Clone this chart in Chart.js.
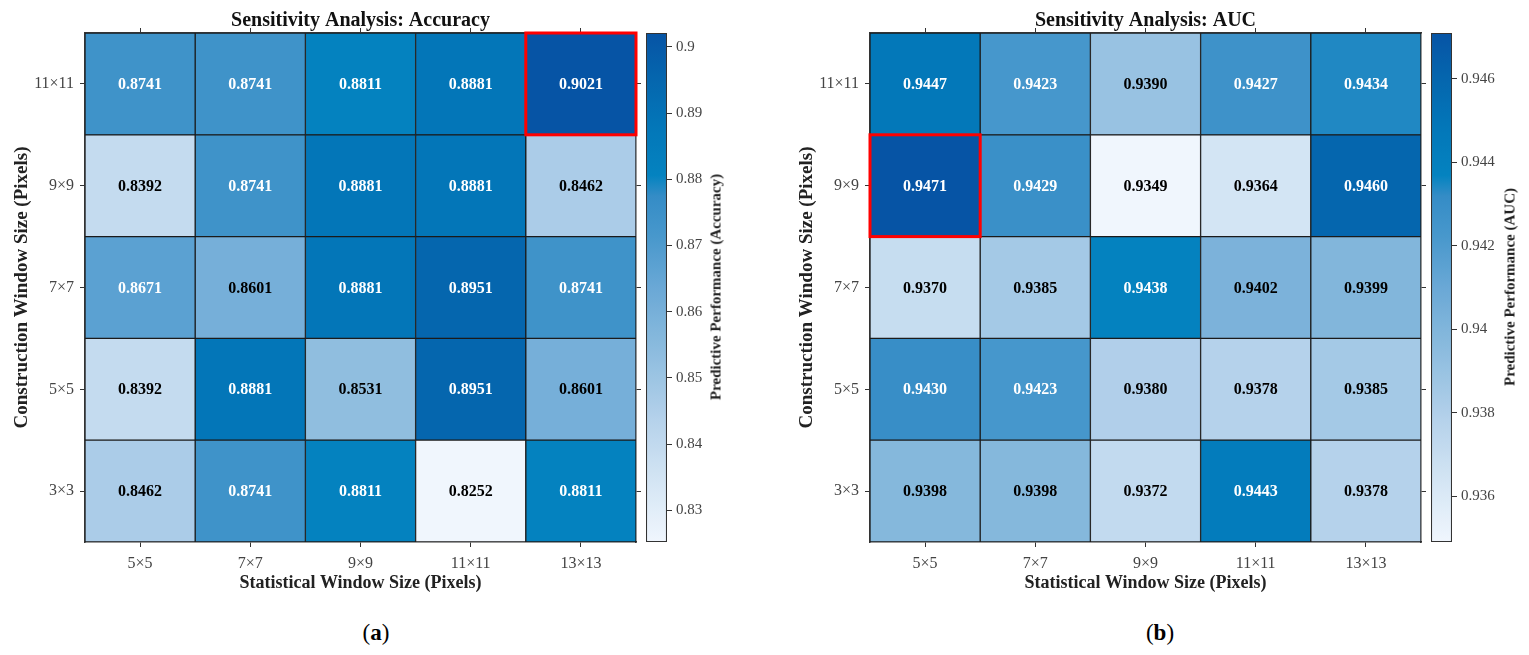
<!DOCTYPE html>
<html><head><meta charset="utf-8">
<script src="https://cdn.jsdelivr.net/npm/chart.js@4.4.0/dist/chart.umd.min.js"></script>
<style>
body{margin:0;background:#fff;width:1529px;height:655px;overflow:hidden;position:relative;font-family:'Liberation Serif',serif;}
.box{position:absolute;}
.cbl{position:absolute;font:bold 15px 'Liberation Serif',serif;color:#222;transform:translate(-50%,-50%) rotate(-90deg);white-space:nowrap;}
.cap{position:absolute;font:23px 'Liberation Serif',serif;color:#000;transform:translate(-50%,-50%);white-space:nowrap;}
</style></head><body>
<div class="box" style="left:0;top:0;width:642px;height:600px"><canvas id="hmA"></canvas></div>
<div class="box" style="left:640px;top:0;width:140px;height:600px"><canvas id="cbA"></canvas></div>
<div class="box" style="left:785px;top:0;width:642px;height:600px"><canvas id="hmB"></canvas></div>
<div class="box" style="left:1425px;top:0;width:104px;height:600px"><canvas id="cbB"></canvas></div>
<div class="cbl" style="left:716px;top:287px">Predictive Performance (Accuracy)</div>
<div class="cbl" style="left:1510px;top:287px">Predictive Performance (AUC)</div>
<div class="cap" style="left:376px;top:633px">(<b>a</b>)</div>
<div class="cap" style="left:1160px;top:633px">(<b>b</b>)</div>
<script>
// ---- data ----
const xLabels = ['5×5','7×7','9×9','11×11','13×13'];        // Statistical window
const yLabels = ['3×3','5×5','7×7','9×9','11×11'];          // Construction window (bottom → top)

const acc3x3   = [0.8462, 0.8741, 0.8811, 0.8252, 0.8811];
const acc5x5   = [0.8392, 0.8881, 0.8531, 0.8951, 0.8601];
const acc7x7   = [0.8671, 0.8601, 0.8881, 0.8951, 0.8741];
const acc9x9   = [0.8392, 0.8741, 0.8881, 0.8881, 0.8462];
const acc11x11 = [0.8741, 0.8741, 0.8811, 0.8881, 0.9021];

const auc3x3   = [0.9398, 0.9398, 0.9372, 0.9443, 0.9378];
const auc5x5   = [0.9430, 0.9423, 0.9380, 0.9378, 0.9385];
const auc7x7   = [0.9370, 0.9385, 0.9438, 0.9402, 0.9399];
const auc9x9   = [0.9471, 0.9429, 0.9349, 0.9364, 0.9460];
const auc11x11 = [0.9447, 0.9423, 0.9390, 0.9427, 0.9434];

const accTicks = [0.83, 0.84, 0.85, 0.86, 0.87, 0.88, 0.89, 0.90];
const aucTicks = [0.936, 0.938, 0.940, 0.942, 0.944, 0.946];

// ---- colour map ----
const stops=[[0,[240,246,253]],[0.12,[212,229,244]],[0.25,[178,208,234]],[0.4,[133,184,220]],[0.5,[106,168,214]],[0.6,[72,152,204]],[0.68,[52,140,198]],[0.72,[4,131,192]],[0.82,[3,118,184]],[0.91,[5,102,174]],[1,[6,84,165]]];
function cmap(t){
  t=Math.max(0,Math.min(1,t));
  for(let i=1;i<stops.length;i++){
    if(t<=stops[i][0]){
      const [t0,c0]=stops[i-1],[t1,c1]=stops[i];const f=(t-t0)/(t1-t0);
      return 'rgb('+c0.map((c,k)=>Math.round(c+(c1[k]-c)*f)).join(',')+')';
    }
  }
  return 'rgb('+stops[stops.length-1][1].join(',')+')';
}

Chart.defaults.font.family="'Liberation Serif', serif";
Chart.defaults.color='#333';

function makeHeat(id, rows, title, yTitle, xTitle){
  const flat=rows.flat(); const mn=Math.min(...flat), mx=Math.max(...flat);
  const datasets=rows.map((row,r)=>({
    data: row.map(()=>[r-0.5,r+0.5]),
    values: row,
    backgroundColor: row.map(v=>cmap((v-mn)/(mx-mn))),
    borderColor:'#1b1b1b', borderWidth:1, borderSkipped:false,
    barPercentage:1, categoryPercentage:1, grouped:false,
    xAxisID:'x', yAxisID:'y'
  }));
  const cellPlugin={
    id:'cells'+id,
    afterDatasetsDraw(chart){
      const ctx=chart.ctx; let best=null;
      chart.data.datasets.forEach((ds,i)=>{
        chart.getDatasetMeta(i).data.forEach((el,j)=>{
          const v=ds.values[j]; const t=(v-mn)/(mx-mn); const p=el.getCenterPoint();
          ctx.save(); ctx.font="bold 16px 'Liberation Serif', serif"; ctx.fillStyle=t>0.5?'#ffffff':'#000000';
          ctx.textAlign='center'; ctx.textBaseline='middle'; ctx.fillText(v.toFixed(4),p.x,p.y+1); ctx.restore();
          if(!best||v>best.v) best={v,el};
        });
      });
      const {x,y,base,width}=best.el.getProps(['x','y','base','width'],true);
      ctx.save(); ctx.strokeStyle='#ff0000'; ctx.lineWidth=3;
      ctx.strokeRect(x-width/2, Math.min(y,base), width, Math.abs(base-y)); ctx.restore();
    }
  };
  const rowTicks=s=>{s.ticks=[0,1,2,3,4].map(v=>({value:v}));};
  new Chart(document.getElementById(id),{
    type:'bar',
    data:{labels:xLabels, datasets},
    plugins:[cellPlugin],
    options:{
      responsive:true, maintainAspectRatio:false, animation:false,
      layout:{padding:0},
      plugins:{legend:{display:false}, tooltip:{enabled:false},
        title:{display:true, text:title, fullSize:false, color:'#111', font:{size:20, weight:'bold'}, padding:{top:9,bottom:0}}},
      scales:{
        x:{type:'category', position:'bottom', offset:true,
          grid:{offset:false, drawOnChartArea:false, tickLength:5, color:'#333'},
          border:{display:true, color:'#333', width:1.5},
          ticks:{font:{size:16}, color:'#444', padding:7},
          title:{display:true, text:xTitle, color:'#222', font:{size:18, weight:'bold'}, padding:{top:2,bottom:6}},
          afterFit:s=>{s.height=58;}},
        x2:{type:'category', labels:xLabels, position:'top', offset:true,
          grid:{offset:false, drawOnChartArea:false, tickLength:5, color:'#333'},
          border:{display:true, color:'#333', width:1.5},
          ticks:{display:false}, afterFit:s=>{s.height=0;}},
        y:{type:'linear', position:'left', min:-0.5, max:4.5, afterBuildTicks:rowTicks,
          grid:{drawOnChartArea:false, tickLength:5, color:'#333'},
          border:{display:true, color:'#333', width:1.5},
          ticks:{font:{size:16}, color:'#444', padding:6, callback:v=>yLabels[Math.round(v)]},
          title:{display:true, text:yTitle, color:'#222', font:{size:19, weight:'bold'}, padding:{top:11,bottom:0}},
          afterFit:s=>{s.width=85;}},
        y2:{type:'linear', position:'right', min:-0.5, max:4.5, afterBuildTicks:rowTicks,
          grid:{drawOnChartArea:false, tickLength:5, color:'#333'},
          border:{display:true, color:'#333', width:1.5},
          ticks:{display:false}, afterFit:s=>{s.width=6;}}
      }
    }
  });
  return [mn,mx];
}

function grad(chart){
  const a=chart.chartArea; if(!a) return cmap(0.5);
  const g=chart.ctx.createLinearGradient(0,a.bottom,0,a.top);
  for(let i=0;i<=50;i++){g.addColorStop(i/50,cmap(i/50));}
  return g;
}

function makeBar(id, mn, mx, ticks, axisW){
  new Chart(document.getElementById(id),{
    type:'bar',
    data:{labels:[''], datasets:[{data:[[mn,mx]], backgroundColor:c=>grad(c.chart), borderColor:'#333', borderWidth:1.4, borderSkipped:false, barPercentage:1, categoryPercentage:1}]},
    options:{responsive:true, maintainAspectRatio:false, animation:false,
      layout:{padding:{left:6, top:33, bottom:58, right:0}},
      plugins:{legend:{display:false}, tooltip:{enabled:false}},
      scales:{
        x:{display:false},
        y:{position:'right', min:mn, max:mx, afterBuildTicks:s=>{s.ticks=ticks.map(v=>({value:v}));},
          ticks:{font:{size:15}, color:'#444', padding:4, callback:v=>String(+v.toFixed(3))},
          grid:{drawOnChartArea:false, tickLength:5, color:'#333'},
          border:{display:false}, afterFit:s=>{s.width=axisW;}}
      }
    }
  });
}

const [amn,amx]=makeHeat('hmA',[acc3x3,acc5x5,acc7x7,acc9x9,acc11x11],'Sensitivity Analysis: Accuracy','Construction Window Size (Pixels)','Statistical Window Size (Pixels)');
makeBar('cbA',amn,amx,accTicks,113);
const [bmn,bmx]=makeHeat('hmB',[auc3x3,auc5x5,auc7x7,auc9x9,auc11x11],'Sensitivity Analysis: AUC','Construction Window Size (Pixels)','Statistical Window Size (Pixels)');
makeBar('cbB',bmn,bmx,aucTicks,77);
</script>
</body></html>
